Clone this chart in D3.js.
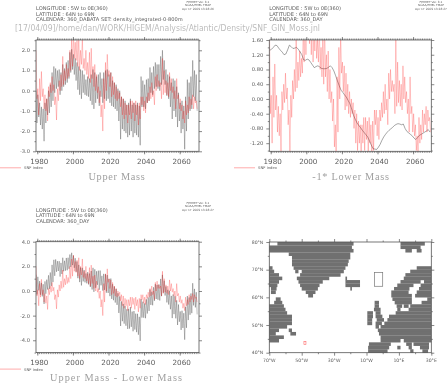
<!DOCTYPE html>
<html>
<head>
<meta charset="utf-8">
<script src="https://cdn.jsdelivr.net/npm/d3@7"></script>
<style>
body { margin: 0; background: #fff; }
svg { display: block; filter: blur(0.3px); }
text { font-family: "DejaVu Sans", sans-serif; fill: #5c5c5c; }
.title { font-family: "Liberation Serif", serif; fill: #a0a0a0; }
.domain, .tick line { stroke: #555; stroke-width: 0.7; }
</style>
</head>
<body>
<div class="chart"></div>
<script>
const WIDTH = 448;
const HEIGHT = 384;

// half-yearly samples starting at this year
const START_YEAR = 1979.3;
const STEP = 0.5;

const snfIndex = [
  2.0,-0.4, 0.1,-1.2, 0.6,-0.5, 0.95,-0.3, 0.1,-0.9, -0.2,-1.0, -0.4,-1.5, 0.2,-0.3, 0.4,-0.1, 0.7,0.0,
  0.3,-0.7, -0.3,-1.45, 0.1,-0.5, 0.5,0.0, 0.8,0.2, 1.7,0.3, 1.0,0.5, 1.3,0.6, 1.1,0.7, 2.0,1.0,
  2.6,1.2, 2.9,1.6, 2.4,1.5, 2.5,1.2, 2.7,1.0, 2.0,1.3, 2.6,1.1, 1.6,1.0, 2.0,0.8, 1.4,0.6,
  1.9,0.4, 2.1,0.6, 1.2,0.2, 1.3,0.0, 0.8,-0.1, 0.2,-0.6, 0.0,-1.3, -0.7,-2.0, 0.6,-0.9, 1.4,0.0,
  1.8,0.7, 1.0,0.2, 0.9,-0.3, 0.7,-0.2, 0.4,-0.4, 0.2,-0.5, 0.0,-0.4, -0.1,-0.8, -0.3,-1.2, -0.4,-1.4,
  -0.6,-1.2, -0.7,-1.6, -0.7,-1.2, -0.5,-1.4, -0.5,-1.1, -0.6,-1.5, -0.5,-1.2, -0.7,-1.7, -0.6,-1.4, -0.3,-0.7,
  -0.3,-1.0, -0.5,-1.1, -0.3,-0.6, -0.1,-0.5, 0.2,-0.4, 0.4,-0.3, 0.0,-0.7, 0.7,0.0, 0.8,0.2, 0.5,0.2,
  0.4,-0.4, 1.6,-0.2, 1.0,-0.1, 0.5,-0.2, 0.4,-0.3, 0.9,0.0, 0.6,-0.1, 0.2,-0.4, 0.0,-0.9, 0.6,-0.4,
  -0.2,-0.9, -0.4,-1.0, -0.7,-1.4, -1.0,-1.6, -0.5,-1.2, -0.7,-1.1, -0.3,-0.9, -0.4,-0.7, -0.2,-0.9, -0.3,-0.6,
  -0.5,-0.9
];

const upperMass = [
  0.0,-1.6, -0.2,-1.3, -0.6,-1.7, -0.8,-1.9, -0.9,-2.5, -0.6,-1.6, -0.4,-1.2, 0.0,-1.1, 0.3,-0.8, 0.9,-0.5,
  1.2,-0.1, 1.1,0.1, 1.0,0.2, 1.05,-0.2, 0.9,0.0, 1.3,0.2, 1.1,0.3, 1.4,0.4, 1.5,0.6, 1.9,0.9,
  2.05,1.05, 1.8,0.8, 1.6,0.5, 1.4,0.05, 1.2,-0.2, 1.05,-0.4, 1.0,-0.1, 0.8,-0.2, 0.55,-0.25, 0.7,-0.3,
  0.6,-0.5, 0.8,-0.7, 1.05,-0.9, 0.9,-0.6, 0.7,-0.4, 0.8,-0.75, 0.9,-0.3, 0.6,-0.6, 0.9,-0.4, 1.0,-0.5,
  1.05,-0.4, 0.8,-0.6, 0.9,-0.75, 0.5,-0.8, 0.4,-0.9, 0.3,-1.0, 0.1,-1.5, 0.0,-2.4, -0.3,-1.9, -0.4,-2.0,
  -0.5,-2.1, -0.7,-2.3, -0.6,-2.2, -0.4,-2.0, -0.7,-2.3, -0.6,-2.1, -0.7,-2.2, -0.6,-2.3, -0.75,-2.7, 0.7,-0.8,
  0.5,-0.8, 0.3,-0.9, 0.55,-0.6, 0.6,-0.5, 1.15,-0.1, 0.9,-0.2, 1.2,0.1, 1.4,0.2, 1.3,0.1, 1.3,0.0,
  1.7,0.3, 2.0,0.55, 1.5,0.3, 1.05,-0.25, 0.8,-0.4, 0.7,-0.8, 0.4,-1.4, 0.6,-1.0, 0.5,-1.3, 0.2,-1.8,
  -0.1,-1.5, -0.6,-2.1, -0.5,-1.9, -0.75,-2.9, -0.3,-2.0, 0.55,-1.4, 0.4,-1.0, 0.7,-0.9, 1.5,-0.3, 1.0,-0.5,
  0.8,-1.0
];

// yearly, smooth line in the second panel
const LOWER_START = 1979;
const lowerMassNeg = [
  1.32,1.35,1.40,1.46,1.45,1.38,1.32,1.27,1.20,1.22,
  1.33,1.46,1.42,1.37,1.38,1.40,1.35,1.28,1.20,1.06,
  1.05,1.08,1.06,0.99,0.92,0.85,0.88,0.90,0.87,0.83,
  0.82,0.82,0.83,0.86,0.90,0.85,0.76,0.63,0.49,0.36,
  0.24,0.18,0.11,0.05,-0.04,-0.13,-0.28,-0.44,-0.55,-0.65,
  -0.72,-0.78,-0.85,-0.91,-0.97,-1.03,-1.14,-1.25,-1.35,-1.36,
  -1.37,-1.31,-1.23,-1.12,-1.03,-0.96,-0.90,-0.85,-0.81,-0.77,
  -0.72,-0.69,-0.67,-0.68,-0.70,-0.68,-0.80,-0.88,-0.92,-0.96,
  -1.00,-1.06,-1.10,-1.05,-0.99,-0.96,-0.93,-0.90,-0.87,-0.83,
  -0.90
];

const upperMinusLower = [
  1.32,-0.28, 1.15,0.05, 0.8,-0.3, 0.66,-0.44, 0.55,-1.05, 0.78,-0.22, 0.92,0.12, 1.27,0.17, 1.5,0.4, 2.12,0.72,
  2.53,1.23, 2.56,1.56, 2.42,1.62, 2.42,1.17, 2.28,1.38, 2.7,1.6, 2.45,1.65, 2.68,1.68, 2.7,1.8, 2.96,1.96,
  3.1,2.1, 2.88,1.88, 2.66,1.56, 2.39,1.04, 2.12,0.72, 1.9,0.45, 1.88,0.78, 1.7,0.7, 1.42,0.62, 1.53,0.53,
  1.42,0.32, 1.62,0.12, 1.88,-0.07, 1.76,0.26, 1.6,0.5, 1.65,0.1, 1.66,0.46, 1.23,0.03, 1.39,0.09, 1.36,-0.14,
  1.29,-0.16, 0.98,-0.42, 1.01,-0.64, 0.55,-0.75, 0.36,-0.94, 0.17,-1.13, -0.18,-1.78, -0.44,-2.84, -0.85,-2.45, -1.05,-2.65,
  -1.22,-2.82, -1.48,-3.08, -1.45,-3.05, -1.31,-2.91, -1.67,-3.27, -1.63,-3.13, -1.84,-3.34, -1.85,-3.55, -2.1,-4.05, -0.66,-2.16,
  -0.87,-2.17, -1.01,-2.21, -0.68,-1.83, -0.52,-1.62, 0.12,-1.13, -0.06,-1.16, 0.3,-0.8, 0.55,-0.65, 0.49,-0.71, 0.53,-0.77,
  0.98,-0.42, 1.31,-0.14, 0.83,-0.37, 0.37,-0.93, 0.1,-1.1, 0.02,-1.48, -0.4,-2.2, -0.28,-1.88, -0.42,-2.22, -0.76,-2.76,
  -1.1,-2.5, -1.66,-3.16, -1.6,-3.0, -1.8,-3.95, -1.29,-2.99, -0.41,-2.36, -0.53,-1.93, -0.2,-1.8, 0.63,-1.17, 0.17,-1.33,
  -0.1,-1.9
];

const yearTicks = [1980, 2000, 2020, 2040, 2060];

const upperTicks = [2, 1, 0, -1, -2, -3];
const upperMinor = [2.5, 1.5, 0.5, -0.5, -1.5, -2.5];
const lowerTicks = [1.6, 1.2, 0.8, 0.4, 0, -0.4, -0.8, -1.2];
const lowerMinor = [1.4, 1.0, 0.6, 0.2, -0.2, -0.6, -1.0, -1.4];
const diffTicks = [4, 2, 0, -2, -4];
const diffMinor = [3, 1, -1, -3, -5];

const lonTicks = [-70, -50, -30, -10, 10, 30];
const lonLabels = ["70°W", "50°W", "30°W", "10°W", "10°E", "30°E"];
const lonMinor = [-60, -40, -20, 0, 20];
const latTicks = [80, 70, 60, 50, 40];
const latLabels = ["80°N", "70°N", "60°N", "50°N", "40°N"];
const latMinor = [75, 65, 55, 45];

const LAT_ROW = 1.25;

// one entry per mask row, from 80N southwards: west/east edges of the land runs
const landRows = [
  [[-65,-18],[11,26]],
  [[-70,-19],[11,23.4]],
  [[-70,-18],[14,18],[21,24]],
  [[-58,-20]],
  [[-56,-20]],
  [[-56,-21]],
  [[-56,-21.5]],
  [[-70,-68],[-55,-23],[21,30]],
  [[-70,-67],[-54,-52],[-50,-24],[17,30]],
  [[-70,-64],[-51,-26],[14,30]],
  [[-70,-62],[-53,-33],[-23,-22],[13,30]],
  [[-70,-64],[-52,-37],[-23,-14],[11,23.4],[25.5,30]],
  [[-70,-65],[-51,-39],[-23,-14],[9,19],[23.4,30]],
  [[-69,-65.5],[-50,-40],[-20,-19],[7,16.5],[22.4,30]],
  [[-69,-66],[-47.5,-41.5],[5.3,16],[21,30]],
  [[-46,-43],[5.3,18],[20,30]],
  [[-66,-63],[6,18],[27.5,30]],
  [[-67,-62],[-5,-2.3],[7.4,18],[24,30]],
  [[-70,-61],[-5,-2.3],[8.6,12],[13,16],[17,30]],
  [[-70,-60],[-5.4,-1.3],[9,11],[16,30]],
  [[-70,-59],[-9.5,-6],[-4.4,-1.3],[8,30]],
  [[-70,-56],[-9.5,-6],[-4.4,-0.2],[3.9,30]],
  [[-70,-56],[-9.5,-6.5],[-3.7,0.8],[2.9,30]],
  [[-70,-56],[-9.5,-6.5],[-4.4,-0.5],[1,30]],
  [[-70,-59],[-4.4,-2.3],[-1.3,30]],
  [[-70,-64],[-58,-56],[-3,30]],
  [[-70,-66],[-57,-53.5],[-2.3,30]],
  [[-70,-61],[-1.3,30]],
  [[-70,-64],[-1.3,11],[13,30]],
  [[-8.5,5],[14.5,18],[19,28.6]],
  [[-9,4],[9,11],[16,18],[23,28.6]],
  [[-9,3],[17,19],[24.5,28]]
];

// box the indices are averaged over, and the SNF point
const boxLon = [-5, 0];
const boxLat = [64, 69];
const snfPoint = [-48, 43.5];

const headerLeft = ["LONGITUDE : 5W to 0E(360)", "LATITUDE : 64N to 69N", "CALENDAR: 360_DABATA SET: density_integrated-0-800m"];
const headerPlain = ["LONGITUDE : 5W to 0E(360)", "LATITUDE : 64N to 69N", "CALENDAR: 360_DAY"];
const stampLines = ["FERRET Ver. 6.1", "NOAA/PMEL TMAP"];
const PATH_LINE = "[17/04/09]/home/dan/WORK/HIGEM/Analysis/Atlantic/Density/SNF_GIN_Moss.jnl";

var _svg = d3.select('.chart').append('svg')
    .attr('width', WIDTH)
    .attr('height', HEIGHT);

var translate = function (x, y) {
    return "translate(" + x + "," + y + ")";
};

var _clipId = 0;

var addHeader = function (lines, x, y, stamp, stampX, stampY) {
    lines.forEach(function (line, i) {
        _svg.append('text')
            .attr('x', x)
            .attr('y', y + i * 5.7)
            .attr('font-size', 5.1)
            .text(line);
    });
    stampLines.concat([stamp]).forEach(function (line, i) {
        _svg.append('text')
            .attr('x', stampX)
            .attr('y', stampY + i * 3.7)
            .attr('text-anchor', 'middle')
            .attr('font-size', 2.9)
            .text(line);
    });
};

var addFrame = function (left, top, right, bottom, xScale, yScale, xMajor, xMinor, yMajor, yMinor) {
    var g = _svg.append('g');

    g.append('g').attr('transform', translate(0, bottom))
        .call(d3.axisBottom(xScale).tickValues(xMajor).tickSize(3).tickFormat(''));
    g.append('g').attr('transform', translate(0, bottom))
        .call(d3.axisBottom(xScale).tickValues(xMinor).tickSize(1.5).tickFormat(''));
    g.append('g').attr('transform', translate(0, top))
        .call(d3.axisTop(xScale).tickValues(xMajor).tickSize(3).tickFormat(''));
    g.append('g').attr('transform', translate(0, top))
        .call(d3.axisTop(xScale).tickValues(xMinor).tickSize(1.5).tickFormat(''));
    g.append('g').attr('transform', translate(left, 0))
        .call(d3.axisLeft(yScale).tickValues(yMajor).tickSize(3).tickFormat(''));
    g.append('g').attr('transform', translate(left, 0))
        .call(d3.axisLeft(yScale).tickValues(yMinor).tickSize(1.5).tickFormat(''));
    g.append('g').attr('transform', translate(right, 0))
        .call(d3.axisRight(yScale).tickValues(yMajor).tickSize(3).tickFormat(''));
    g.append('g').attr('transform', translate(right, 0))
        .call(d3.axisRight(yScale).tickValues(yMinor).tickSize(1.5).tickFormat(''));

    g.selectAll('.domain').attr('d', null);
    g.append('rect')
        .attr('x', left).attr('y', top)
        .attr('width', right - left).attr('height', bottom - top)
        .attr('fill', 'none')
        .attr('stroke', '#555')
        .attr('stroke-width', 0.8);
};

var generateSeries = function (opts) {
    var xScale = d3.scaleLinear().domain([1980, 2060]).range([opts.x1980, opts.x1980 + 142.4]);
    var yScale = d3.scaleLinear().domain(opts.yDomain).range([opts.bottom, opts.top]);
    var id = 'clip' + (_clipId++);

    _svg.append('clipPath').attr('id', id).append('rect')
        .attr('x', opts.left).attr('y', opts.top)
        .attr('width', opts.right - opts.left)
        .attr('height', opts.bottom - opts.top);

    var halfYear = d3.line()
        .x(function (d, i) { return xScale(START_YEAR + i * STEP); })
        .y(function (d) { return yScale(d); });
    var yearly = d3.line()
        .x(function (d, i) { return xScale(LOWER_START + i + 0.5); })
        .y(function (d) { return yScale(d); });

    var plot = _svg.append('g').attr('clip-path', 'url(#' + id + ')');

    plot.append('path')
        .attr('d', opts.yearlyGrey ? yearly(opts.grey) : halfYear(opts.grey))
        .attr('fill', 'none')
        .attr('stroke', '#444')
        .attr('stroke-width', opts.yearlyGrey ? 0.6 : 0.5)
        .attr('stroke-opacity', opts.yearlyGrey ? 0.8 : 0.7);

    plot.append('path')
        .attr('d', halfYear(snfIndex))
        .attr('fill', 'none')
        .attr('stroke', '#f00')
        .attr('stroke-width', 0.5)
        .attr('stroke-opacity', 0.45);

    var yearMinor = d3.range(1980, 2071);
    addFrame(opts.left, opts.top, opts.right, opts.bottom, xScale, yScale, yearTicks, yearMinor, opts.major, opts.minor);

    opts.major.forEach(function (v) {
        _svg.append('text')
            .attr('x', opts.left - 6)
            .attr('y', yScale(v) + 1.9)
            .attr('text-anchor', 'end')
            .attr('font-size', 5.2)
            .text(d3.format(opts.fmt)(v).replace('−', '-'));
    });

    yearTicks.forEach(function (year) {
        _svg.append('text')
            .attr('x', xScale(year) + 2)
            .attr('y', opts.bottom + 12.5)
            .attr('text-anchor', 'middle')
            .attr('font-size', 7.2)
            .text(year);
    });

    // legend
    _svg.append('line')
        .attr('x1', opts.legendX).attr('x2', opts.legendX + 21)
        .attr('y1', opts.bottom + 16.5).attr('y2', opts.bottom + 16.5)
        .attr('stroke', '#f88')
        .attr('stroke-width', 0.7);
    _svg.append('text')
        .attr('x', opts.legendX + 24)
        .attr('y', opts.bottom + 18)
        .attr('font-size', 3.8)
        .text('SNF index');

    _svg.append('text')
        .attr('class', 'title')
        .attr('x', opts.titleX)
        .attr('y', opts.titleY)
        .attr('font-size', 10.3)
        .attr('text-anchor', 'middle')
        .attr('letter-spacing', opts.titleSpacing)
        .text(opts.title);
};

var generateMap = function () {
    var left = 269.3, right = 431.3, top = 242, bottom = 352.7;
    var lon = d3.scaleLinear().domain([-70, 30]).range([left, right]);
    var lat = d3.scaleLinear().domain([40, 80]).range([bottom, top]);

    var cells = [];
    landRows.forEach(function (runs, i) {
        runs.forEach(function (run) {
            cells.push({ row: i, west: run[0], east: run[1] });
        });
    });

    _svg.append('g').selectAll('rect').data(cells)
        .enter().append('rect')
        .attr('x', function (d) { return lon(d.west); })
        .attr('y', function (d) { return lat(80 - d.row * LAT_ROW); })
        .attr('width', function (d) { return lon(d.east) - lon(d.west); })
        .attr('height', lat(80 - LAT_ROW) - lat(80) + 0.15)
        .attr('fill', '#707070');

    _svg.append('rect')
        .attr('x', lon(boxLon[0]))
        .attr('y', lat(boxLat[1]))
        .attr('width', lon(boxLon[1]) - lon(boxLon[0]))
        .attr('height', lat(boxLat[0]) - lat(boxLat[1]))
        .attr('fill', 'none')
        .attr('stroke', '#777')
        .attr('stroke-width', 0.7);

    _svg.append('rect')
        .attr('x', lon(snfPoint[0]) - 1)
        .attr('y', lat(snfPoint[1]) - 1.5)
        .attr('width', 2)
        .attr('height', 3)
        .attr('fill', 'none')
        .attr('stroke', '#f66')
        .attr('stroke-width', 0.6);

    addFrame(left, top, right, bottom, lon, lat, lonTicks, lonMinor, latTicks, latMinor);

    lonTicks.forEach(function (v, i) {
        _svg.append('text')
            .attr('x', lon(v))
            .attr('y', bottom + 9)
            .attr('text-anchor', 'middle')
            .attr('font-size', 4.6)
            .text(lonLabels[i]);
    });
    latTicks.forEach(function (v, i) {
        _svg.append('text')
            .attr('x', left - 6)
            .attr('y', lat(v) + 1.7)
            .attr('text-anchor', 'end')
            .attr('font-size', 4.6)
            .text(latLabels[i]);
    });
};

addHeader(headerLeft, 36, 9.8, "Apr 17 2009 13:28:26", 198, 2.5);
addHeader(headerPlain, 269.3, 9.8, "Apr 17 2009 13:28:27", 431, 2.5);
addHeader(headerPlain, 36, 211.5, "Apr 17 2009 13:28:27", 198, 203.5);

_svg.append('text')
    .attr('x', 15)
    .attr('y', 31)
    .attr('font-size', 9)
    .attr('textLength', 305)
    .attr('lengthAdjust', 'spacingAndGlyphs')
    .style('fill', '#bcbcbc')
    .text(PATH_LINE);

generateSeries({
    left: 36, right: 199, top: 40, bottom: 151.3, x1980: 37.3,
    yDomain: [-3, 2.51], grey: upperMass,
    major: upperTicks, minor: upperMinor, fmt: '.1f',
    legendX: 0, title: 'Upper Mass', titleX: 117, titleY: 180, titleSpacing: 0.7
});

generateSeries({
    left: 269.3, right: 431.3, top: 40, bottom: 151.3, x1980: 270.7,
    yDomain: [-1.42, 1.6], grey: lowerMassNeg, yearlyGrey: true,
    major: lowerTicks, minor: lowerMinor, fmt: '.2f',
    legendX: 234, title: '-1* Lower Mass', titleX: 351, titleY: 180, titleSpacing: 0.7
});

generateSeries({
    left: 36, right: 199, top: 241.7, bottom: 352.6, x1980: 37.3,
    yDomain: [-5, 4], grey: upperMinusLower,
    major: diffTicks, minor: diffMinor, fmt: '.1f',
    legendX: 0, title: 'Upper Mass - Lower Mass', titleX: 116.5, titleY: 381, titleSpacing: 1
});

generateMap();
</script>
</body>
</html>
